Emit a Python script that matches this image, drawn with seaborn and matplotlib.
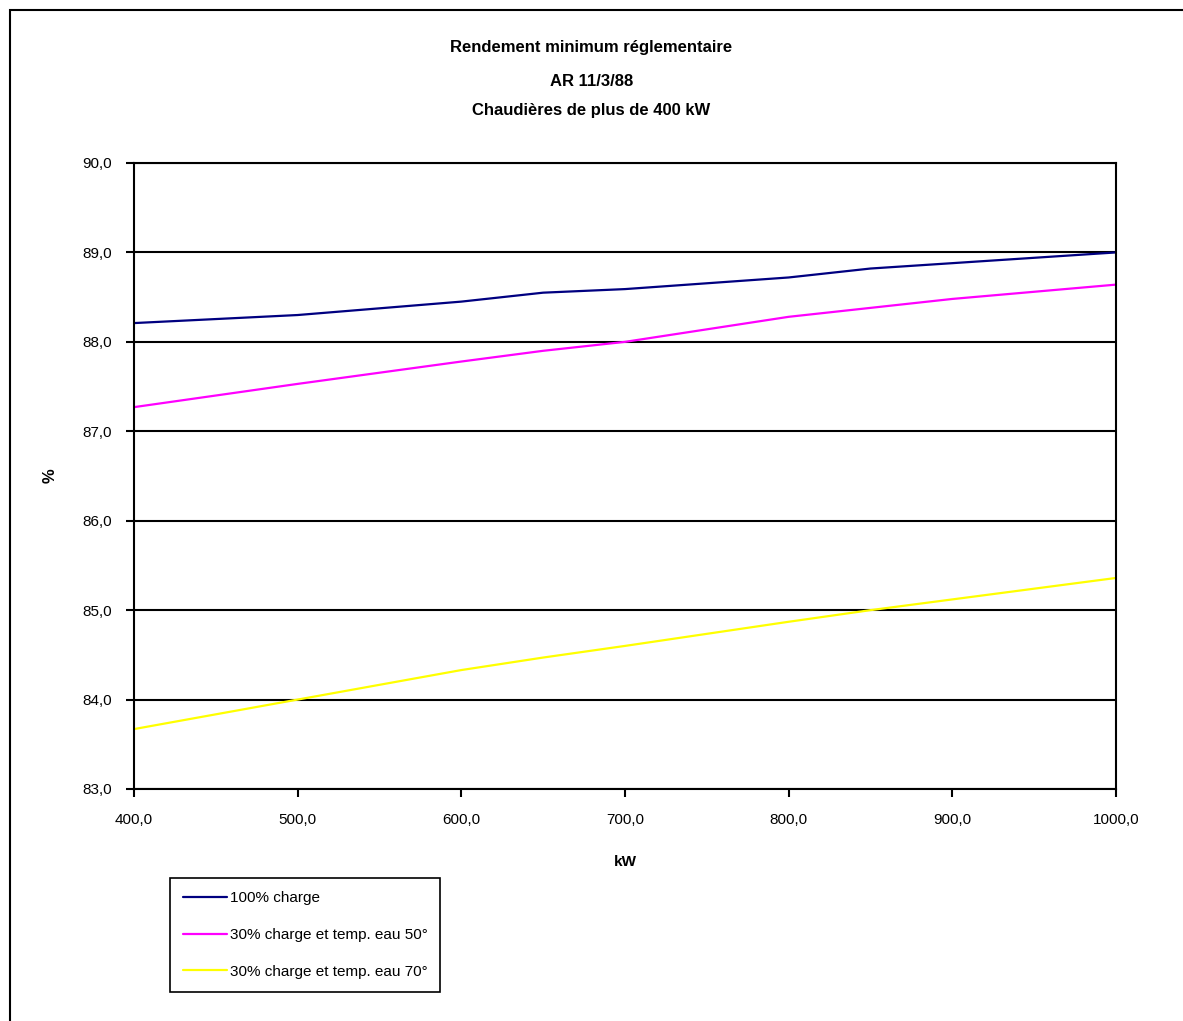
import pandas as pd
import seaborn as sns
import matplotlib.pyplot as plt
from matplotlib.patches import Rectangle
from matplotlib.ticker import FuncFormatter

kw = [400, 500, 600, 650, 700, 800, 850, 900, 1000]
full_load = [88.21, 88.30, 88.45, 88.55, 88.59, 88.72, 88.82, 88.88, 89.00]
part_50 = [87.27, 87.53, 87.78, 87.90, 88.00, 88.28, 88.38, 88.48, 88.64]
part_70 = [83.67, 84.00, 84.33, 84.47, 84.60, 84.87, 85.00, 85.12, 85.36]

series_names = ['100% charge', '30% charge et temp. eau 50°', '30% charge et temp. eau 70°']
colors = ['#000080', '#FF00FF', '#FFFF00']

df = pd.DataFrame({
    'kW': kw * 3,
    'pct': full_load + part_50 + part_70,
    'serie': [s for s in series_names for _ in kw],
})

sns.set_style('white')
plt.rcParams['font.family'] = ['Liberation Sans', 'DejaVu Sans']
plt.rcParams['text.color'] = 'black'

W, H = 1183, 1021
fig = plt.figure(figsize=(W / 100, H / 100), dpi=100)
ax = fig.add_axes([134 / W, 1 - 789 / H, (1116 - 134) / W, (789 - 163) / H])

sns.lineplot(data=df, x='kW', y='pct', hue='serie', palette=dict(zip(series_names, colors)),
             linewidth=1.6, ax=ax, legend=False)

ax.set_xlim(400, 1000)
ax.set_ylim(83, 90)
ax.set_xticks(range(400, 1001, 100))
ax.set_yticks(range(83, 91))
fmt = FuncFormatter(lambda v, p: f'{v:.1f}'.replace('.', ','))
ax.xaxis.set_major_formatter(fmt)
ax.yaxis.set_major_formatter(fmt)
ax.tick_params(axis='both', which='major', bottom=True, left=True, direction='out',
               length=6, width=1.5, color='black', labelsize=11, labelcolor='black')
ax.tick_params(axis='x', pad=11)
ax.tick_params(axis='y', pad=10)
ax.grid(axis='y', color='black', linewidth=1.5)
ax.set_axisbelow(True)
for s in ax.spines.values():
    s.set_color('black')
    s.set_linewidth(1.5)

ax.set_xlabel('kW', fontsize=11, fontweight='bold', color='black')
ax.xaxis.set_label_coords(0.5, -0.106)
ax.set_ylabel('%', fontsize=12, fontweight='bold', color='black')
ax.yaxis.set_label_coords(-0.078, 0.5)

fig.text(0.5, 1 - 47 / H, 'Rendement minimum réglementaire', ha='center', va='center',
         fontsize=12, fontweight='bold')
fig.text(0.5, 1 - 82 / H, 'AR 11/3/88', ha='center', va='center', fontsize=12, fontweight='bold')
fig.text(0.5, 1 - 110 / H, 'Chaudières de plus de 400 kW', ha='center', va='center',
         fontsize=12, fontweight='bold')

# outer chart border (only left/top visible in the original)
fig.patches.append(Rectangle((10 / W, -0.01), 1.02, 1 - 10 / H + 0.01, transform=fig.transFigure,
                             fill=False, edgecolor='black', linewidth=1.5))

handles = [plt.Line2D([], [], color=c, linewidth=1.6) for c in colors]
leg = fig.legend(handles, series_names, loc='upper left',
                 bbox_to_anchor=(170 / W, 1 - 878 / H), fontsize=11,
                 frameon=True, fancybox=False, edgecolor='black', framealpha=1,
                 handlelength=2.9, handletextpad=0.15, labelspacing=1.5,
                 borderpad=0.85, borderaxespad=0)
leg.get_frame().set_linewidth(1.2)

fig.savefig('out.png', dpi=100)
